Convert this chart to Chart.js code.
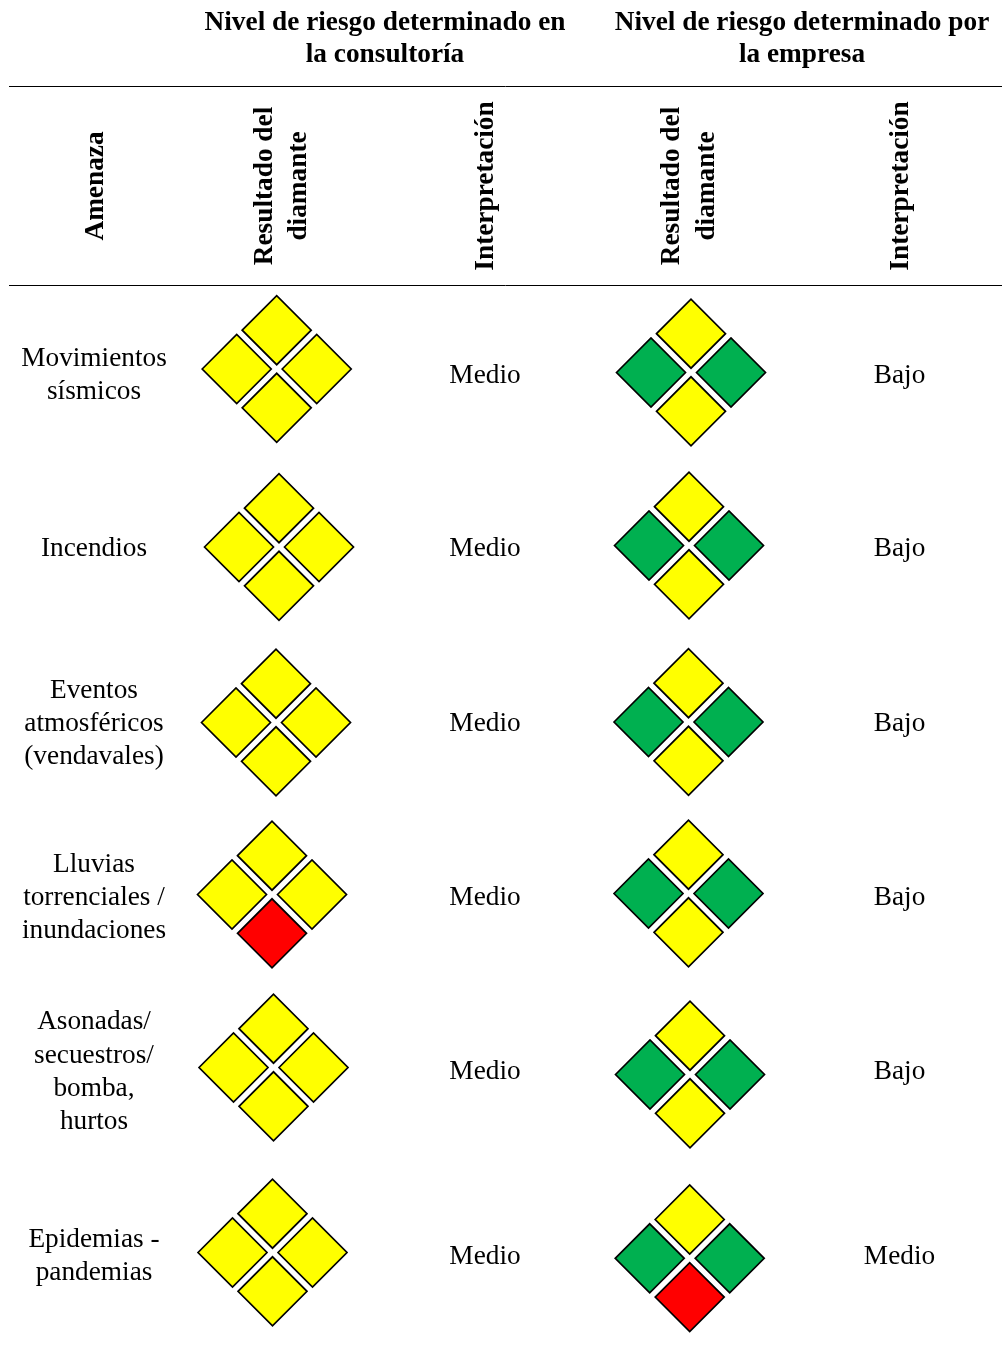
<!DOCTYPE html>
<html lang="es">
<head>
<meta charset="utf-8">
<title>Nivel de riesgo por amenaza</title>
<script src="https://cdn.jsdelivr.net/npm/chart.js@4/dist/chart.umd.min.js"></script>
<style>
  html, body { margin: 0; padding: 0; background: #fff; }
  canvas { display: block; }
</style>
</head>
<body>
<canvas id="diamantes" width="1002" height="1346"></canvas>
<script>
// contenido de la tabla
var amenazas = [
	["Movimientos", "sísmicos"],
	["Incendios"],
	["Eventos", "atmosféricos", "(vendavales)"],
	["Lluvias", "torrenciales /", "inundaciones"],
	["Asonadas/", "secuestros/", "bomba,", "hurtos"],
	["Epidemias -", "pandemias"]
];
var interpretacionConsultoria = ["Medio", "Medio", "Medio", "Medio", "Medio", "Medio"];
var interpretacionEmpresa = ["Bajo", "Bajo", "Bajo", "Bajo", "Bajo", "Medio"];

// rombos: arriba, izquierda, derecha, abajo
var diamanteConsultoria = [
	["A", "A", "A", "A"],
	["A", "A", "A", "A"],
	["A", "A", "A", "A"],
	["A", "A", "A", "R"],
	["A", "A", "A", "A"],
	["A", "A", "A", "A"]
];
var diamanteEmpresa = [
	["A", "V", "V", "A"],
	["A", "V", "V", "A"],
	["A", "V", "V", "A"],
	["A", "V", "V", "A"],
	["A", "V", "V", "A"],
	["A", "V", "V", "R"]
];

// centro de cada diamante
var consultoriaX = [276.7, 279, 276, 272, 273.5, 272.5];
var consultoriaY = [369, 547, 722.5, 894.5, 1067.5, 1252.5];
var empresaX = [691, 689, 688.5, 688.5, 690, 689.7];
var empresaY = [372.5, 545.5, 722, 893.5, 1074.5, 1258.3];

var filaY = [375.5, 549, 724, 898, 1072, 1256.5];

var colores = { A: "#ffff00", V: "#00b050", R: "#ff0000" };
var SEP_X = 40;
var SEP_Y = 38.8;
var offsets = [[0, -SEP_Y], [-SEP_X, 0], [SEP_X, 0], [0, SEP_Y]];

var fuente = '"Liberation Serif", "Times New Roman", serif';

function puntosDiamante(centrosX, centrosY, niveles) {
	var puntos = [];
	var fondos = [];
	for (var i = 0; i < niveles.length; i++) {
		for (var j = 0; j < 4; j++) {
			puntos.push({ x: centrosX[i] + offsets[j][0], y: centrosY[i] + offsets[j][1] });
			fondos.push(colores[niveles[i][j]]);
		}
	}
	return { puntos: puntos, fondos: fondos };
}

function datasetRombos(d) {
	return {
		data: d.puntos,
		showLine: false,
		pointStyle: "rectRot",
		pointRadius: 34.5,
		pointHoverRadius: 34.5,
		pointBackgroundColor: d.fondos,
		pointBorderColor: "#000",
		pointBorderWidth: 1.7
	};
}

function datasetRaya(y) {
	return {
		data: [{ x: 9, y: y }, { x: 1002, y: y }],
		showLine: true,
		borderColor: "#000",
		borderWidth: 1,
		pointRadius: 0
	};
}

var textos = {
	id: "textos",
	afterDatasetsDraw: function (chart) {
		var ctx = chart.ctx;
		var sx = chart.scales.x;
		var sy = chart.scales.y;
		ctx.save();
		ctx.fillStyle = "#000";
		ctx.textAlign = "center";
		ctx.textBaseline = "middle";

		function normal(t, x, y) {
			ctx.fillText(t, sx.getPixelForValue(x), sy.getPixelForValue(y));
		}
		function vertical(t, x, y) {
			ctx.save();
			ctx.translate(sx.getPixelForValue(x), sy.getPixelForValue(y));
			ctx.rotate(-Math.PI / 2);
			ctx.fillText(t, 0, 0);
			ctx.restore();
		}

		// cabecera
		ctx.font = "bold 27.3px " + fuente;
		normal("Nivel de riesgo determinado en", 385, 23);
		normal("la consultoría", 385, 55);
		normal("Nivel de riesgo determinado por", 802, 23);
		normal("la empresa", 802, 55);

		vertical("Amenaza", 96, 186);
		vertical("Resultado del", 265, 186);
		vertical("diamante", 299, 186);
		vertical("Interpretación", 486, 186);
		vertical("Resultado del", 672, 186);
		vertical("diamante", 707, 186);
		vertical("Interpretación", 901, 186);

		// filas
		ctx.font = "27.3px " + fuente;
		for (var i = 0; i < amenazas.length; i++) {
			var lineas = amenazas[i];
			for (var k = 0; k < lineas.length; k++) {
				normal(lineas[k], 94, filaY[i] + (k - (lineas.length - 1) / 2) * 33.2);
			}
			normal(interpretacionConsultoria[i], 485, filaY[i]);
			normal(interpretacionEmpresa[i], 899.5, filaY[i]);
		}
		ctx.restore();
	}
};

var chart = new Chart(document.getElementById("diamantes"), {
	type: "scatter",
	data: {
		datasets: [
			datasetRaya(86.5),
			datasetRaya(285.5),
			datasetRombos(puntosDiamante(consultoriaX, consultoriaY, diamanteConsultoria)),
			datasetRombos(puntosDiamante(empresaX, empresaY, diamanteEmpresa))
		]
	},
	options: {
		responsive: false,
		animation: false,
		layout: { padding: 0, autoPadding: false },
		scales: {
			x: { type: "linear", min: 0, max: 1002, display: false },
			y: { type: "linear", min: 0, max: 1346, reverse: true, display: false }
		},
		plugins: {
			legend: { display: false },
			tooltip: { enabled: false }
		}
	},
	plugins: [textos]
});
</script>
</body>
</html>
